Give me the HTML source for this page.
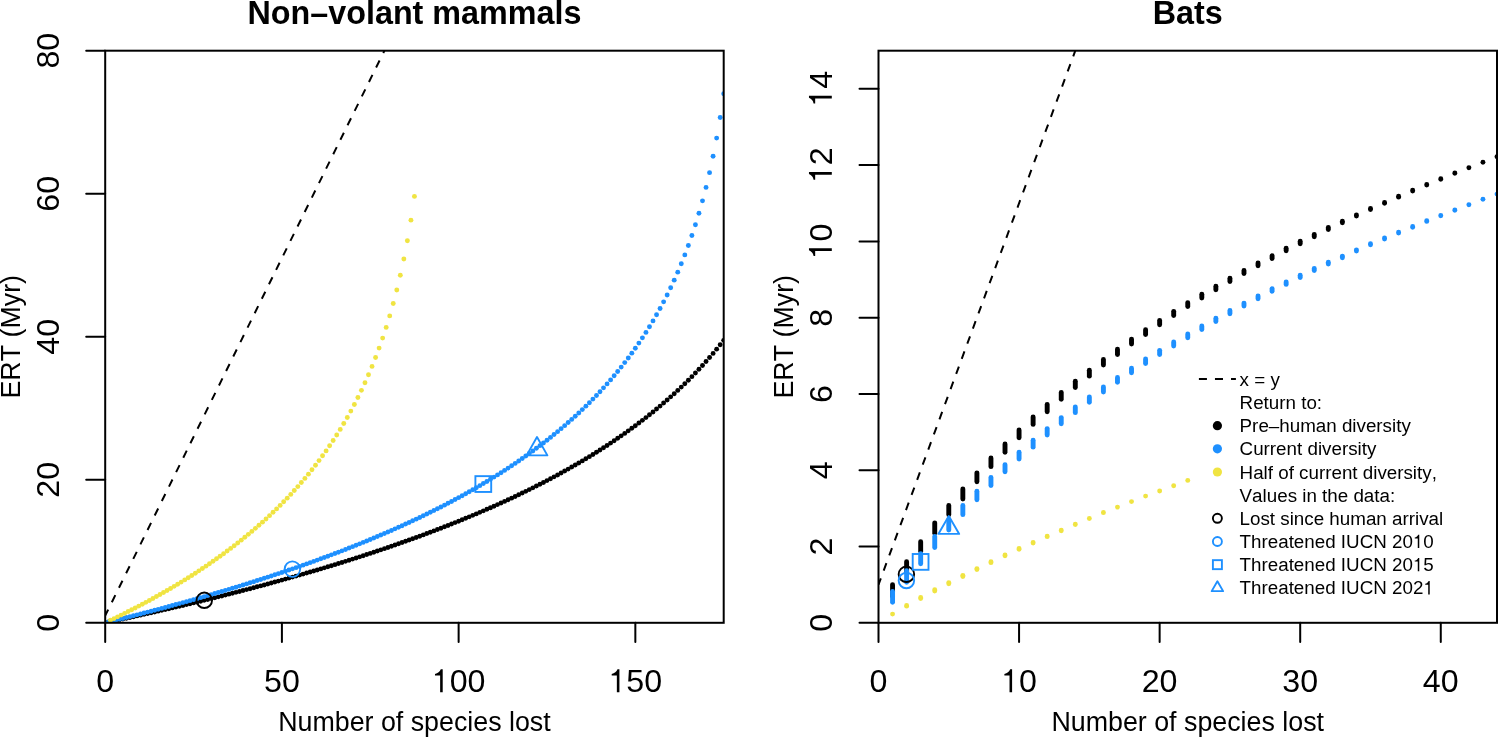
<!DOCTYPE html><html><head><meta charset="utf-8"><title>ERT</title><style>html,body{margin:0;padding:0;background:#fff;}svg{display:block;will-change:transform;}text{font-family:"Liberation Sans",sans-serif;fill:#000;font-kerning:none;font-feature-settings:"kern" 0;}</style></head><body>
<svg width="1498" height="737" viewBox="0 0 1498 737">
<defs>
<clipPath id="cl"><rect x="105.2" y="50.7" width="618.5" height="572.0999999999999"/></clipPath>
<clipPath id="cr"><rect x="878.5" y="50.7" width="618.5" height="572.0999999999999"/></clipPath>
</defs>
<rect width="100%" height="100%" fill="#fff"/>
<g clip-path="url(#cl)">
<g fill="#000"><circle cx="105.20" cy="622.80" r="2.45"/><circle cx="108.73" cy="622.05" r="2.45"/><circle cx="112.27" cy="621.30" r="2.45"/><circle cx="115.80" cy="620.54" r="2.45"/><circle cx="119.34" cy="619.78" r="2.45"/><circle cx="122.87" cy="619.02" r="2.45"/><circle cx="126.41" cy="618.25" r="2.45"/><circle cx="129.94" cy="617.48" r="2.45"/><circle cx="133.47" cy="616.70" r="2.45"/><circle cx="137.01" cy="615.92" r="2.45"/><circle cx="140.54" cy="615.14" r="2.45"/><circle cx="144.08" cy="614.35" r="2.45"/><circle cx="147.61" cy="613.56" r="2.45"/><circle cx="151.15" cy="612.77" r="2.45"/><circle cx="154.68" cy="611.97" r="2.45"/><circle cx="158.21" cy="611.17" r="2.45"/><circle cx="161.75" cy="610.36" r="2.45"/><circle cx="165.28" cy="609.55" r="2.45"/><circle cx="168.82" cy="608.73" r="2.45"/><circle cx="172.35" cy="607.91" r="2.45"/><circle cx="175.89" cy="607.09" r="2.45"/><circle cx="179.42" cy="606.26" r="2.45"/><circle cx="182.95" cy="605.43" r="2.45"/><circle cx="186.49" cy="604.59" r="2.45"/><circle cx="190.02" cy="603.75" r="2.45"/><circle cx="193.56" cy="602.90" r="2.45"/><circle cx="197.09" cy="602.05" r="2.45"/><circle cx="200.63" cy="601.19" r="2.45"/><circle cx="204.16" cy="600.33" r="2.45"/><circle cx="207.69" cy="599.47" r="2.45"/><circle cx="211.23" cy="598.60" r="2.45"/><circle cx="214.76" cy="597.72" r="2.45"/><circle cx="218.30" cy="596.84" r="2.45"/><circle cx="221.83" cy="595.96" r="2.45"/><circle cx="225.37" cy="595.07" r="2.45"/><circle cx="228.90" cy="594.17" r="2.45"/><circle cx="232.43" cy="593.27" r="2.45"/><circle cx="235.97" cy="592.37" r="2.45"/><circle cx="239.50" cy="591.46" r="2.45"/><circle cx="243.04" cy="590.54" r="2.45"/><circle cx="246.57" cy="589.62" r="2.45"/><circle cx="250.11" cy="588.69" r="2.45"/><circle cx="253.64" cy="587.76" r="2.45"/><circle cx="257.17" cy="586.82" r="2.45"/><circle cx="260.71" cy="585.88" r="2.45"/><circle cx="264.24" cy="584.93" r="2.45"/><circle cx="267.78" cy="583.98" r="2.45"/><circle cx="271.31" cy="583.02" r="2.45"/><circle cx="274.85" cy="582.05" r="2.45"/><circle cx="278.38" cy="581.08" r="2.45"/><circle cx="281.91" cy="580.10" r="2.45"/><circle cx="285.45" cy="579.11" r="2.45"/><circle cx="288.98" cy="578.12" r="2.45"/><circle cx="292.52" cy="577.12" r="2.45"/><circle cx="296.05" cy="576.12" r="2.45"/><circle cx="299.59" cy="575.11" r="2.45"/><circle cx="303.12" cy="574.09" r="2.45"/><circle cx="306.65" cy="573.07" r="2.45"/><circle cx="310.19" cy="572.04" r="2.45"/><circle cx="313.72" cy="571.00" r="2.45"/><circle cx="317.26" cy="569.96" r="2.45"/><circle cx="320.79" cy="568.91" r="2.45"/><circle cx="324.33" cy="567.85" r="2.45"/><circle cx="327.86" cy="566.78" r="2.45"/><circle cx="331.39" cy="565.71" r="2.45"/><circle cx="334.93" cy="564.63" r="2.45"/><circle cx="338.46" cy="563.54" r="2.45"/><circle cx="342.00" cy="562.45" r="2.45"/><circle cx="345.53" cy="561.35" r="2.45"/><circle cx="349.07" cy="560.23" r="2.45"/><circle cx="352.60" cy="559.12" r="2.45"/><circle cx="356.13" cy="557.99" r="2.45"/><circle cx="359.67" cy="556.85" r="2.45"/><circle cx="363.20" cy="555.71" r="2.45"/><circle cx="366.74" cy="554.56" r="2.45"/><circle cx="370.27" cy="553.40" r="2.45"/><circle cx="373.81" cy="552.23" r="2.45"/><circle cx="377.34" cy="551.05" r="2.45"/><circle cx="380.87" cy="549.87" r="2.45"/><circle cx="384.41" cy="548.67" r="2.45"/><circle cx="387.94" cy="547.47" r="2.45"/><circle cx="391.48" cy="546.25" r="2.45"/><circle cx="395.01" cy="545.03" r="2.45"/><circle cx="398.55" cy="543.80" r="2.45"/><circle cx="402.08" cy="542.55" r="2.45"/><circle cx="405.61" cy="541.30" r="2.45"/><circle cx="409.15" cy="540.04" r="2.45"/><circle cx="412.68" cy="538.77" r="2.45"/><circle cx="416.22" cy="537.48" r="2.45"/><circle cx="419.75" cy="536.19" r="2.45"/><circle cx="423.29" cy="534.88" r="2.45"/><circle cx="426.82" cy="533.57" r="2.45"/><circle cx="430.35" cy="532.24" r="2.45"/><circle cx="433.89" cy="530.90" r="2.45"/><circle cx="437.42" cy="529.55" r="2.45"/><circle cx="440.96" cy="528.19" r="2.45"/><circle cx="444.49" cy="526.82" r="2.45"/><circle cx="448.03" cy="525.43" r="2.45"/><circle cx="451.56" cy="524.03" r="2.45"/><circle cx="455.09" cy="522.62" r="2.45"/><circle cx="458.63" cy="521.20" r="2.45"/><circle cx="462.16" cy="519.76" r="2.45"/><circle cx="465.70" cy="518.31" r="2.45"/><circle cx="469.23" cy="516.85" r="2.45"/><circle cx="472.77" cy="515.37" r="2.45"/><circle cx="476.30" cy="513.88" r="2.45"/><circle cx="479.83" cy="512.37" r="2.45"/><circle cx="483.37" cy="510.85" r="2.45"/><circle cx="486.90" cy="509.32" r="2.45"/><circle cx="490.44" cy="507.77" r="2.45"/><circle cx="493.97" cy="506.20" r="2.45"/><circle cx="497.51" cy="504.62" r="2.45"/><circle cx="501.04" cy="503.02" r="2.45"/><circle cx="504.57" cy="501.41" r="2.45"/><circle cx="508.11" cy="499.77" r="2.45"/><circle cx="511.64" cy="498.13" r="2.45"/><circle cx="515.18" cy="496.46" r="2.45"/><circle cx="518.71" cy="494.78" r="2.45"/><circle cx="522.25" cy="493.07" r="2.45"/><circle cx="525.78" cy="491.35" r="2.45"/><circle cx="529.31" cy="489.61" r="2.45"/><circle cx="532.85" cy="487.85" r="2.45"/><circle cx="536.38" cy="486.07" r="2.45"/><circle cx="539.92" cy="484.27" r="2.45"/><circle cx="543.45" cy="482.45" r="2.45"/><circle cx="546.99" cy="480.61" r="2.45"/><circle cx="550.52" cy="478.75" r="2.45"/><circle cx="554.05" cy="476.86" r="2.45"/><circle cx="557.59" cy="474.95" r="2.45"/><circle cx="561.12" cy="473.02" r="2.45"/><circle cx="564.66" cy="471.06" r="2.45"/><circle cx="568.19" cy="469.08" r="2.45"/><circle cx="571.73" cy="467.07" r="2.45"/><circle cx="575.26" cy="465.04" r="2.45"/><circle cx="578.79" cy="462.98" r="2.45"/><circle cx="582.33" cy="460.89" r="2.45"/><circle cx="585.86" cy="458.77" r="2.45"/><circle cx="589.40" cy="456.63" r="2.45"/><circle cx="592.93" cy="454.45" r="2.45"/><circle cx="596.47" cy="452.25" r="2.45"/><circle cx="600.00" cy="450.01" r="2.45"/><circle cx="603.53" cy="447.74" r="2.45"/><circle cx="607.07" cy="445.44" r="2.45"/><circle cx="610.60" cy="443.10" r="2.45"/><circle cx="614.14" cy="440.73" r="2.45"/><circle cx="617.67" cy="438.32" r="2.45"/><circle cx="621.21" cy="435.87" r="2.45"/><circle cx="624.74" cy="433.39" r="2.45"/><circle cx="628.27" cy="430.86" r="2.45"/><circle cx="631.81" cy="428.29" r="2.45"/><circle cx="635.34" cy="425.68" r="2.45"/><circle cx="638.88" cy="423.03" r="2.45"/><circle cx="642.41" cy="420.33" r="2.45"/><circle cx="645.95" cy="417.58" r="2.45"/><circle cx="649.48" cy="414.79" r="2.45"/><circle cx="653.01" cy="411.94" r="2.45"/><circle cx="656.55" cy="409.04" r="2.45"/><circle cx="660.08" cy="406.08" r="2.45"/><circle cx="663.62" cy="403.07" r="2.45"/><circle cx="667.15" cy="400.00" r="2.45"/><circle cx="670.69" cy="396.87" r="2.45"/><circle cx="674.22" cy="393.68" r="2.45"/><circle cx="677.75" cy="390.41" r="2.45"/><circle cx="681.29" cy="387.08" r="2.45"/><circle cx="684.82" cy="383.68" r="2.45"/><circle cx="688.36" cy="380.20" r="2.45"/><circle cx="691.89" cy="376.64" r="2.45"/><circle cx="695.43" cy="373.00" r="2.45"/><circle cx="698.96" cy="369.27" r="2.45"/><circle cx="702.49" cy="365.45" r="2.45"/><circle cx="706.03" cy="361.54" r="2.45"/><circle cx="709.56" cy="357.52" r="2.45"/><circle cx="713.10" cy="353.40" r="2.45"/><circle cx="716.63" cy="349.17" r="2.45"/><circle cx="720.17" cy="344.82" r="2.45"/><circle cx="723.70" cy="340.35" r="2.45"/></g>
<g fill="#1E90FF"><circle cx="105.20" cy="622.80" r="2.45"/><circle cx="108.73" cy="621.94" r="2.45"/><circle cx="112.27" cy="621.07" r="2.45"/><circle cx="115.80" cy="620.20" r="2.45"/><circle cx="119.34" cy="619.32" r="2.45"/><circle cx="122.87" cy="618.44" r="2.45"/><circle cx="126.41" cy="617.55" r="2.45"/><circle cx="129.94" cy="616.66" r="2.45"/><circle cx="133.47" cy="615.76" r="2.45"/><circle cx="137.01" cy="614.86" r="2.45"/><circle cx="140.54" cy="613.95" r="2.45"/><circle cx="144.08" cy="613.04" r="2.45"/><circle cx="147.61" cy="612.12" r="2.45"/><circle cx="151.15" cy="611.20" r="2.45"/><circle cx="154.68" cy="610.27" r="2.45"/><circle cx="158.21" cy="609.33" r="2.45"/><circle cx="161.75" cy="608.39" r="2.45"/><circle cx="165.28" cy="607.44" r="2.45"/><circle cx="168.82" cy="606.49" r="2.45"/><circle cx="172.35" cy="605.53" r="2.45"/><circle cx="175.89" cy="604.57" r="2.45"/><circle cx="179.42" cy="603.60" r="2.45"/><circle cx="182.95" cy="602.62" r="2.45"/><circle cx="186.49" cy="601.64" r="2.45"/><circle cx="190.02" cy="600.65" r="2.45"/><circle cx="193.56" cy="599.66" r="2.45"/><circle cx="197.09" cy="598.66" r="2.45"/><circle cx="200.63" cy="597.65" r="2.45"/><circle cx="204.16" cy="596.63" r="2.45"/><circle cx="207.69" cy="595.61" r="2.45"/><circle cx="211.23" cy="594.58" r="2.45"/><circle cx="214.76" cy="593.55" r="2.45"/><circle cx="218.30" cy="592.51" r="2.45"/><circle cx="221.83" cy="591.46" r="2.45"/><circle cx="225.37" cy="590.41" r="2.45"/><circle cx="228.90" cy="589.34" r="2.45"/><circle cx="232.43" cy="588.27" r="2.45"/><circle cx="235.97" cy="587.19" r="2.45"/><circle cx="239.50" cy="586.11" r="2.45"/><circle cx="243.04" cy="585.02" r="2.45"/><circle cx="246.57" cy="583.92" r="2.45"/><circle cx="250.11" cy="582.81" r="2.45"/><circle cx="253.64" cy="581.69" r="2.45"/><circle cx="257.17" cy="580.57" r="2.45"/><circle cx="260.71" cy="579.44" r="2.45"/><circle cx="264.24" cy="578.30" r="2.45"/><circle cx="267.78" cy="577.15" r="2.45"/><circle cx="271.31" cy="575.99" r="2.45"/><circle cx="274.85" cy="574.82" r="2.45"/><circle cx="278.38" cy="573.65" r="2.45"/><circle cx="281.91" cy="572.46" r="2.45"/><circle cx="285.45" cy="571.27" r="2.45"/><circle cx="288.98" cy="570.07" r="2.45"/><circle cx="292.52" cy="568.86" r="2.45"/><circle cx="296.05" cy="567.64" r="2.45"/><circle cx="299.59" cy="566.41" r="2.45"/><circle cx="303.12" cy="565.17" r="2.45"/><circle cx="306.65" cy="563.92" r="2.45"/><circle cx="310.19" cy="562.65" r="2.45"/><circle cx="313.72" cy="561.38" r="2.45"/><circle cx="317.26" cy="560.10" r="2.45"/><circle cx="320.79" cy="558.81" r="2.45"/><circle cx="324.33" cy="557.51" r="2.45"/><circle cx="327.86" cy="556.19" r="2.45"/><circle cx="331.39" cy="554.87" r="2.45"/><circle cx="334.93" cy="553.53" r="2.45"/><circle cx="338.46" cy="552.18" r="2.45"/><circle cx="342.00" cy="550.83" r="2.45"/><circle cx="345.53" cy="549.45" r="2.45"/><circle cx="349.07" cy="548.07" r="2.45"/><circle cx="352.60" cy="546.67" r="2.45"/><circle cx="356.13" cy="545.27" r="2.45"/><circle cx="359.67" cy="543.84" r="2.45"/><circle cx="363.20" cy="542.41" r="2.45"/><circle cx="366.74" cy="540.96" r="2.45"/><circle cx="370.27" cy="539.50" r="2.45"/><circle cx="373.81" cy="538.02" r="2.45"/><circle cx="377.34" cy="536.53" r="2.45"/><circle cx="380.87" cy="535.03" r="2.45"/><circle cx="384.41" cy="533.51" r="2.45"/><circle cx="387.94" cy="531.98" r="2.45"/><circle cx="391.48" cy="530.43" r="2.45"/><circle cx="395.01" cy="528.86" r="2.45"/><circle cx="398.55" cy="527.28" r="2.45"/><circle cx="402.08" cy="525.69" r="2.45"/><circle cx="405.61" cy="524.07" r="2.45"/><circle cx="409.15" cy="522.44" r="2.45"/><circle cx="412.68" cy="520.80" r="2.45"/><circle cx="416.22" cy="519.13" r="2.45"/><circle cx="419.75" cy="517.45" r="2.45"/><circle cx="423.29" cy="515.75" r="2.45"/><circle cx="426.82" cy="514.03" r="2.45"/><circle cx="430.35" cy="512.29" r="2.45"/><circle cx="433.89" cy="510.53" r="2.45"/><circle cx="437.42" cy="508.75" r="2.45"/><circle cx="440.96" cy="506.95" r="2.45"/><circle cx="444.49" cy="505.13" r="2.45"/><circle cx="448.03" cy="503.29" r="2.45"/><circle cx="451.56" cy="501.43" r="2.45"/><circle cx="455.09" cy="499.54" r="2.45"/><circle cx="458.63" cy="497.63" r="2.45"/><circle cx="462.16" cy="495.70" r="2.45"/><circle cx="465.70" cy="493.74" r="2.45"/><circle cx="469.23" cy="491.76" r="2.45"/><circle cx="472.77" cy="489.75" r="2.45"/><circle cx="476.30" cy="487.71" r="2.45"/><circle cx="479.83" cy="485.65" r="2.45"/><circle cx="483.37" cy="483.56" r="2.45"/><circle cx="486.90" cy="481.45" r="2.45"/><circle cx="490.44" cy="479.30" r="2.45"/><circle cx="493.97" cy="477.12" r="2.45"/><circle cx="497.51" cy="474.92" r="2.45"/><circle cx="501.04" cy="472.68" r="2.45"/><circle cx="504.57" cy="470.40" r="2.45"/><circle cx="508.11" cy="468.10" r="2.45"/><circle cx="511.64" cy="465.76" r="2.45"/><circle cx="515.18" cy="463.38" r="2.45"/><circle cx="518.71" cy="460.97" r="2.45"/><circle cx="522.25" cy="458.52" r="2.45"/><circle cx="525.78" cy="456.03" r="2.45"/><circle cx="529.31" cy="453.50" r="2.45"/><circle cx="532.85" cy="450.93" r="2.45"/><circle cx="536.38" cy="448.31" r="2.45"/><circle cx="539.92" cy="445.65" r="2.45"/><circle cx="543.45" cy="442.95" r="2.45"/><circle cx="546.99" cy="440.19" r="2.45"/><circle cx="550.52" cy="437.39" r="2.45"/><circle cx="554.05" cy="434.53" r="2.45"/><circle cx="557.59" cy="431.63" r="2.45"/><circle cx="561.12" cy="428.66" r="2.45"/><circle cx="564.66" cy="425.64" r="2.45"/><circle cx="568.19" cy="422.56" r="2.45"/><circle cx="571.73" cy="419.42" r="2.45"/><circle cx="575.26" cy="416.21" r="2.45"/><circle cx="578.79" cy="412.94" r="2.45"/><circle cx="582.33" cy="409.59" r="2.45"/><circle cx="585.86" cy="406.17" r="2.45"/><circle cx="589.40" cy="402.68" r="2.45"/><circle cx="592.93" cy="399.10" r="2.45"/><circle cx="596.47" cy="395.44" r="2.45"/><circle cx="600.00" cy="391.69" r="2.45"/><circle cx="603.53" cy="387.85" r="2.45"/><circle cx="607.07" cy="383.92" r="2.45"/><circle cx="610.60" cy="379.88" r="2.45"/><circle cx="614.14" cy="375.73" r="2.45"/><circle cx="617.67" cy="371.47" r="2.45"/><circle cx="621.21" cy="367.09" r="2.45"/><circle cx="624.74" cy="362.58" r="2.45"/><circle cx="628.27" cy="357.94" r="2.45"/><circle cx="631.81" cy="353.16" r="2.45"/><circle cx="635.34" cy="348.22" r="2.45"/><circle cx="638.88" cy="343.12" r="2.45"/><circle cx="642.41" cy="337.85" r="2.45"/><circle cx="645.95" cy="332.40" r="2.45"/><circle cx="649.48" cy="326.75" r="2.45"/><circle cx="653.01" cy="320.88" r="2.45"/><circle cx="656.55" cy="314.79" r="2.45"/><circle cx="660.08" cy="308.44" r="2.45"/><circle cx="663.62" cy="301.83" r="2.45"/><circle cx="667.15" cy="294.93" r="2.45"/><circle cx="670.69" cy="287.70" r="2.45"/><circle cx="674.22" cy="280.13" r="2.45"/><circle cx="677.75" cy="272.16" r="2.45"/><circle cx="681.29" cy="263.77" r="2.45"/><circle cx="684.82" cy="254.89" r="2.45"/><circle cx="688.36" cy="245.49" r="2.45"/><circle cx="691.89" cy="235.47" r="2.45"/><circle cx="695.43" cy="224.77" r="2.45"/><circle cx="698.96" cy="213.28" r="2.45"/><circle cx="702.49" cy="200.87" r="2.45"/><circle cx="706.03" cy="187.39" r="2.45"/><circle cx="709.56" cy="172.63" r="2.45"/><circle cx="713.10" cy="156.32" r="2.45"/><circle cx="716.63" cy="138.11" r="2.45"/><circle cx="720.17" cy="117.47" r="2.45"/><circle cx="723.70" cy="93.68" r="2.45"/><circle cx="727.23" cy="65.60" r="2.45"/></g>
<g fill="#F0E442"><circle cx="110.50" cy="620.28" r="2.45"/><circle cx="114.04" cy="618.58" r="2.45"/><circle cx="117.57" cy="616.85" r="2.45"/><circle cx="121.10" cy="615.11" r="2.45"/><circle cx="124.64" cy="613.35" r="2.45"/><circle cx="128.17" cy="611.57" r="2.45"/><circle cx="131.71" cy="609.77" r="2.45"/><circle cx="135.24" cy="607.95" r="2.45"/><circle cx="138.78" cy="606.10" r="2.45"/><circle cx="142.31" cy="604.24" r="2.45"/><circle cx="145.84" cy="602.35" r="2.45"/><circle cx="149.38" cy="600.44" r="2.45"/><circle cx="152.91" cy="598.50" r="2.45"/><circle cx="156.45" cy="596.54" r="2.45"/><circle cx="159.98" cy="594.56" r="2.45"/><circle cx="163.52" cy="592.55" r="2.45"/><circle cx="167.05" cy="590.51" r="2.45"/><circle cx="170.58" cy="588.45" r="2.45"/><circle cx="174.12" cy="586.35" r="2.45"/><circle cx="177.65" cy="584.23" r="2.45"/><circle cx="181.19" cy="582.09" r="2.45"/><circle cx="184.72" cy="579.91" r="2.45"/><circle cx="188.26" cy="577.70" r="2.45"/><circle cx="191.79" cy="575.46" r="2.45"/><circle cx="195.32" cy="573.18" r="2.45"/><circle cx="198.86" cy="570.87" r="2.45"/><circle cx="202.39" cy="568.53" r="2.45"/><circle cx="205.93" cy="566.15" r="2.45"/><circle cx="209.46" cy="563.74" r="2.45"/><circle cx="213.00" cy="561.28" r="2.45"/><circle cx="216.53" cy="558.79" r="2.45"/><circle cx="220.06" cy="556.26" r="2.45"/><circle cx="223.60" cy="553.68" r="2.45"/><circle cx="227.13" cy="551.07" r="2.45"/><circle cx="230.67" cy="548.40" r="2.45"/><circle cx="234.20" cy="545.69" r="2.45"/><circle cx="237.74" cy="542.94" r="2.45"/><circle cx="241.27" cy="540.13" r="2.45"/><circle cx="244.80" cy="537.27" r="2.45"/><circle cx="248.34" cy="534.36" r="2.45"/><circle cx="251.87" cy="531.40" r="2.45"/><circle cx="255.41" cy="528.37" r="2.45"/><circle cx="258.94" cy="525.29" r="2.45"/><circle cx="262.48" cy="522.14" r="2.45"/><circle cx="266.01" cy="518.93" r="2.45"/><circle cx="269.54" cy="515.65" r="2.45"/><circle cx="273.08" cy="512.31" r="2.45"/><circle cx="276.61" cy="508.88" r="2.45"/><circle cx="280.15" cy="505.39" r="2.45"/><circle cx="283.68" cy="501.81" r="2.45"/><circle cx="287.22" cy="498.14" r="2.45"/><circle cx="290.75" cy="494.39" r="2.45"/><circle cx="294.28" cy="490.55" r="2.45"/><circle cx="297.82" cy="486.61" r="2.45"/><circle cx="301.35" cy="482.56" r="2.45"/><circle cx="304.89" cy="478.41" r="2.45"/><circle cx="308.42" cy="474.15" r="2.45"/><circle cx="311.96" cy="469.77" r="2.45"/><circle cx="315.49" cy="465.26" r="2.45"/><circle cx="319.02" cy="460.61" r="2.45"/><circle cx="322.56" cy="455.82" r="2.45"/><circle cx="326.09" cy="450.88" r="2.45"/><circle cx="329.63" cy="445.78" r="2.45"/><circle cx="333.16" cy="440.51" r="2.45"/><circle cx="336.70" cy="435.05" r="2.45"/><circle cx="340.23" cy="429.40" r="2.45"/><circle cx="343.76" cy="423.53" r="2.45"/><circle cx="347.30" cy="417.43" r="2.45"/><circle cx="350.83" cy="411.08" r="2.45"/><circle cx="354.37" cy="404.47" r="2.45"/><circle cx="357.90" cy="397.56" r="2.45"/><circle cx="361.44" cy="390.33" r="2.45"/><circle cx="364.97" cy="382.75" r="2.45"/><circle cx="368.50" cy="374.78" r="2.45"/><circle cx="372.04" cy="366.39" r="2.45"/><circle cx="375.57" cy="357.51" r="2.45"/><circle cx="379.11" cy="348.10" r="2.45"/><circle cx="382.64" cy="338.09" r="2.45"/><circle cx="386.18" cy="327.39" r="2.45"/><circle cx="389.71" cy="315.90" r="2.45"/><circle cx="393.24" cy="303.49" r="2.45"/><circle cx="396.78" cy="290.01" r="2.45"/><circle cx="400.31" cy="275.26" r="2.45"/><circle cx="403.85" cy="258.97" r="2.45"/><circle cx="407.38" cy="240.77" r="2.45"/><circle cx="410.92" cy="220.16" r="2.45"/><circle cx="414.45" cy="196.41" r="2.45"/></g>
<line x1="105.20" y1="615.65" x2="384.41" y2="50.70" stroke="#000" stroke-width="2" stroke-dasharray="7.85 8.27" stroke-dashoffset="1.13"/>
</g>
<circle cx="204.30" cy="600.30" r="7.75" fill="none" stroke="#000" stroke-width="1.9"/>
<circle cx="292.40" cy="569.10" r="7.75" fill="none" stroke="#1E90FF" stroke-width="1.9"/>
<rect x="475.40" y="476.15" width="15.80" height="15.80" fill="none" stroke="#1E90FF" stroke-width="1.9"/>
<path d="M537.00 437.00L547.40 455.40L526.60 455.40Z" fill="none" stroke="#1E90FF" stroke-width="1.9" stroke-linejoin="round"/>
<rect x="105.2" y="50.7" width="618.50" height="572.10" fill="none" stroke="#000" stroke-width="2"/>
<path d="M105.20 622.8V641.9M281.91 622.8V641.9M458.63 622.8V641.9M635.34 622.8V641.9M105.2 622.80H86.2M105.2 479.77H86.2M105.2 336.75H86.2M105.2 193.73H86.2M105.2 50.70H86.2" stroke="#000" stroke-width="2" stroke-linecap="round" fill="none"/>
<text x="105.20" y="692.20" font-size="32.2" text-anchor="middle">0</text>
<text x="281.91" y="692.20" font-size="32.2" text-anchor="middle">50</text>
<text x="458.63" y="692.20" font-size="32.2" text-anchor="middle"> 00</text><path d="M442.71 692.20L442.71 669.37L440.78 669.37C439.82 671.75 437.88 673.69 434.99 673.97L434.99 675.58L440.14 675.58L440.14 692.20Z" fill="#000"/>
<text x="635.34" y="692.20" font-size="32.2" text-anchor="middle"> 50</text><path d="M619.42 692.20L619.42 669.37L617.50 669.37C616.53 671.75 614.60 673.69 611.70 673.97L611.70 675.58L616.85 675.58L616.85 692.20Z" fill="#000"/>
<g transform="translate(58.5 622.80) rotate(-90)"><text x="0.00" y="0.00" font-size="32.2" text-anchor="middle">0</text></g>
<g transform="translate(58.5 479.77) rotate(-90)"><text x="0.00" y="0.00" font-size="32.2" text-anchor="middle">20</text></g>
<g transform="translate(58.5 336.75) rotate(-90)"><text x="0.00" y="0.00" font-size="32.2" text-anchor="middle">40</text></g>
<g transform="translate(58.5 193.73) rotate(-90)"><text x="0.00" y="0.00" font-size="32.2" text-anchor="middle">60</text></g>
<g transform="translate(58.5 50.70) rotate(-90)"><text x="0.00" y="0.00" font-size="32.2" text-anchor="middle">80</text></g>
<text x="414.45" y="730.5" font-size="26.8" text-anchor="middle">Number of species lost</text>
<text transform="translate(19.8 336.75) rotate(-90)" font-size="26.8" text-anchor="middle">ERT (Myr)</text>
<text x="414.45" y="23.5" font-size="32.3" font-weight="bold" text-anchor="middle">Non–volant mammals</text>
<g clip-path="url(#cr)">
<path d="M892.56 584.75V596.15" stroke="#000" stroke-width="4.9" stroke-linecap="round"/><path d="M906.61 561.75V572.15" stroke="#000" stroke-width="4.9" stroke-linecap="round"/><path d="M920.67 541.75V551.15" stroke="#000" stroke-width="4.9" stroke-linecap="round"/><path d="M934.73 522.85V533.15" stroke="#000" stroke-width="4.9" stroke-linecap="round"/><path d="M948.78 505.55V514.65" stroke="#000" stroke-width="4.9" stroke-linecap="round"/><path d="M962.84 488.95V498.95" stroke="#000" stroke-width="4.9" stroke-linecap="round"/><path d="M976.90 472.85V481.85" stroke="#000" stroke-width="4.9" stroke-linecap="round"/><path d="M990.95 458.05V466.65" stroke="#000" stroke-width="4.9" stroke-linecap="round"/><path d="M1005.01 443.95V452.35" stroke="#000" stroke-width="4.9" stroke-linecap="round"/><path d="M1019.07 430.05V437.75" stroke="#000" stroke-width="4.9" stroke-linecap="round"/><path d="M1033.12 416.89V424.39" stroke="#000" stroke-width="4.9" stroke-linecap="round"/><path d="M1047.18 404.48V411.68" stroke="#000" stroke-width="4.9" stroke-linecap="round"/><path d="M1061.24 392.47V399.27" stroke="#000" stroke-width="4.9" stroke-linecap="round"/><path d="M1075.30 381.14V387.54" stroke="#000" stroke-width="4.9" stroke-linecap="round"/><path d="M1089.35 370.15V376.15" stroke="#000" stroke-width="4.9" stroke-linecap="round"/><path d="M1103.41 359.49V365.09" stroke="#000" stroke-width="4.9" stroke-linecap="round"/><path d="M1117.47 349.13V354.43" stroke="#000" stroke-width="4.9" stroke-linecap="round"/><path d="M1131.52 339.10V344.10" stroke="#000" stroke-width="4.9" stroke-linecap="round"/><path d="M1145.58 329.75V334.45" stroke="#000" stroke-width="4.9" stroke-linecap="round"/><path d="M1159.64 320.40V324.80" stroke="#000" stroke-width="4.9" stroke-linecap="round"/><path d="M1173.69 311.34V315.54" stroke="#000" stroke-width="4.9" stroke-linecap="round"/><path d="M1187.75 302.67V306.57" stroke="#000" stroke-width="4.9" stroke-linecap="round"/><path d="M1201.81 294.29V297.99" stroke="#000" stroke-width="4.9" stroke-linecap="round"/><path d="M1215.86 286.25V289.75" stroke="#000" stroke-width="4.9" stroke-linecap="round"/><path d="M1229.92 278.21V281.51" stroke="#000" stroke-width="4.9" stroke-linecap="round"/><path d="M1243.98 270.51V273.61" stroke="#000" stroke-width="4.9" stroke-linecap="round"/><path d="M1258.03 262.92V265.82" stroke="#000" stroke-width="4.9" stroke-linecap="round"/><path d="M1272.09 255.63V258.43" stroke="#000" stroke-width="4.9" stroke-linecap="round"/><path d="M1286.15 248.26V250.86" stroke="#000" stroke-width="4.9" stroke-linecap="round"/><path d="M1300.20 241.19V243.69" stroke="#000" stroke-width="4.9" stroke-linecap="round"/><path d="M1314.26 234.51V236.73" stroke="#000" stroke-width="4.9" stroke-linecap="round"/><path d="M1328.32 227.48V229.44" stroke="#000" stroke-width="4.9" stroke-linecap="round"/><path d="M1342.38 221.14V222.82" stroke="#000" stroke-width="4.9" stroke-linecap="round"/><path d="M1356.43 214.89V216.11" stroke="#000" stroke-width="4.9" stroke-linecap="round"/><path d="M1370.49 208.47V209.57" stroke="#000" stroke-width="4.9" stroke-linecap="round"/><path d="M1384.55 202.39V203.36" stroke="#000" stroke-width="4.9" stroke-linecap="round"/><path d="M1398.60 196.31V197.16" stroke="#000" stroke-width="4.9" stroke-linecap="round"/><path d="M1412.66 190.23V190.96" stroke="#000" stroke-width="4.9" stroke-linecap="round"/><path d="M1426.72 184.49V185.10" stroke="#000" stroke-width="4.9" stroke-linecap="round"/><path d="M1440.77 178.75V179.23" stroke="#000" stroke-width="4.9" stroke-linecap="round"/><path d="M1454.83 173.01V173.37" stroke="#000" stroke-width="4.9" stroke-linecap="round"/><path d="M1468.89 167.60V167.85" stroke="#000" stroke-width="4.9" stroke-linecap="round"/><path d="M1482.94 162.20V162.32" stroke="#000" stroke-width="4.9" stroke-linecap="round"/><circle cx="1497.00" cy="156.80" r="2.45" fill="#000"/>
<path d="M892.56 591.45V602.35" stroke="#1E90FF" stroke-width="4.9" stroke-linecap="round"/><path d="M906.61 570.75V582.25" stroke="#1E90FF" stroke-width="4.9" stroke-linecap="round"/><path d="M920.67 553.65V563.85" stroke="#1E90FF" stroke-width="4.9" stroke-linecap="round"/><path d="M934.73 536.55V547.45" stroke="#1E90FF" stroke-width="4.9" stroke-linecap="round"/><path d="M948.78 519.75V529.95" stroke="#1E90FF" stroke-width="4.9" stroke-linecap="round"/><path d="M962.84 505.55V514.65" stroke="#1E90FF" stroke-width="4.9" stroke-linecap="round"/><path d="M976.90 491.25V499.75" stroke="#1E90FF" stroke-width="4.9" stroke-linecap="round"/><path d="M990.95 477.55V485.55" stroke="#1E90FF" stroke-width="4.9" stroke-linecap="round"/><path d="M1005.01 464.65V471.85" stroke="#1E90FF" stroke-width="4.9" stroke-linecap="round"/><path d="M1019.07 452.25V458.95" stroke="#1E90FF" stroke-width="4.9" stroke-linecap="round"/><path d="M1033.12 440.25V447.15" stroke="#1E90FF" stroke-width="4.9" stroke-linecap="round"/><path d="M1047.18 428.58V435.08" stroke="#1E90FF" stroke-width="4.9" stroke-linecap="round"/><path d="M1061.24 417.59V423.69" stroke="#1E90FF" stroke-width="4.9" stroke-linecap="round"/><path d="M1075.30 406.93V412.63" stroke="#1E90FF" stroke-width="4.9" stroke-linecap="round"/><path d="M1089.35 396.95V402.25" stroke="#1E90FF" stroke-width="4.9" stroke-linecap="round"/><path d="M1103.41 386.93V391.93" stroke="#1E90FF" stroke-width="4.9" stroke-linecap="round"/><path d="M1117.47 377.53V382.33" stroke="#1E90FF" stroke-width="4.9" stroke-linecap="round"/><path d="M1131.52 368.13V372.73" stroke="#1E90FF" stroke-width="4.9" stroke-linecap="round"/><path d="M1145.58 359.07V363.47" stroke="#1E90FF" stroke-width="4.9" stroke-linecap="round"/><path d="M1159.64 350.35V354.55" stroke="#1E90FF" stroke-width="4.9" stroke-linecap="round"/><path d="M1173.69 341.97V345.97" stroke="#1E90FF" stroke-width="4.9" stroke-linecap="round"/><path d="M1187.75 333.93V337.73" stroke="#1E90FF" stroke-width="4.9" stroke-linecap="round"/><path d="M1201.81 325.89V329.49" stroke="#1E90FF" stroke-width="4.9" stroke-linecap="round"/><path d="M1215.86 318.19V321.59" stroke="#1E90FF" stroke-width="4.9" stroke-linecap="round"/><path d="M1229.92 310.49V313.69" stroke="#1E90FF" stroke-width="4.9" stroke-linecap="round"/><path d="M1243.98 303.12V306.12" stroke="#1E90FF" stroke-width="4.9" stroke-linecap="round"/><path d="M1258.03 296.05V298.85" stroke="#1E90FF" stroke-width="4.9" stroke-linecap="round"/><path d="M1272.09 288.58V291.28" stroke="#1E90FF" stroke-width="4.9" stroke-linecap="round"/><path d="M1286.15 281.90V284.40" stroke="#1E90FF" stroke-width="4.9" stroke-linecap="round"/><path d="M1300.20 275.16V277.56" stroke="#1E90FF" stroke-width="4.9" stroke-linecap="round"/><path d="M1314.26 268.48V270.61" stroke="#1E90FF" stroke-width="4.9" stroke-linecap="round"/><path d="M1328.32 262.13V263.99" stroke="#1E90FF" stroke-width="4.9" stroke-linecap="round"/><path d="M1342.38 256.13V257.71" stroke="#1E90FF" stroke-width="4.9" stroke-linecap="round"/><path d="M1356.43 249.83V251.05" stroke="#1E90FF" stroke-width="4.9" stroke-linecap="round"/><path d="M1370.49 243.75V244.84" stroke="#1E90FF" stroke-width="4.9" stroke-linecap="round"/><path d="M1384.55 238.01V238.98" stroke="#1E90FF" stroke-width="4.9" stroke-linecap="round"/><path d="M1398.60 232.27V233.12" stroke="#1E90FF" stroke-width="4.9" stroke-linecap="round"/><path d="M1412.66 226.53V227.25" stroke="#1E90FF" stroke-width="4.9" stroke-linecap="round"/><path d="M1426.72 220.78V221.39" stroke="#1E90FF" stroke-width="4.9" stroke-linecap="round"/><path d="M1440.77 215.38V215.87" stroke="#1E90FF" stroke-width="4.9" stroke-linecap="round"/><path d="M1454.83 209.98V210.34" stroke="#1E90FF" stroke-width="4.9" stroke-linecap="round"/><path d="M1468.89 204.58V204.82" stroke="#1E90FF" stroke-width="4.9" stroke-linecap="round"/><path d="M1482.94 199.17V199.30" stroke="#1E90FF" stroke-width="4.9" stroke-linecap="round"/><circle cx="1497.00" cy="194.11" r="2.45" fill="#1E90FF"/>
<circle cx="892.56" cy="614.10" r="2.45" fill="#F0E442"/><path d="M906.61 605.45V606.15" stroke="#F0E442" stroke-width="4.9" stroke-linecap="round"/><path d="M920.67 597.55V598.45" stroke="#F0E442" stroke-width="4.9" stroke-linecap="round"/><path d="M934.73 589.80V591.00" stroke="#F0E442" stroke-width="4.9" stroke-linecap="round"/><path d="M948.78 582.60V583.80" stroke="#F0E442" stroke-width="4.9" stroke-linecap="round"/><path d="M962.84 575.35V576.45" stroke="#F0E442" stroke-width="4.9" stroke-linecap="round"/><path d="M976.90 568.60V569.60" stroke="#F0E442" stroke-width="4.9" stroke-linecap="round"/><path d="M990.95 561.75V562.65" stroke="#F0E442" stroke-width="4.9" stroke-linecap="round"/><path d="M1005.01 555.00V555.80" stroke="#F0E442" stroke-width="4.9" stroke-linecap="round"/><path d="M1019.07 548.55V549.25" stroke="#F0E442" stroke-width="4.9" stroke-linecap="round"/><path d="M1033.12 542.40V543.00" stroke="#F0E442" stroke-width="4.9" stroke-linecap="round"/><path d="M1047.18 536.15V536.65" stroke="#F0E442" stroke-width="4.9" stroke-linecap="round"/><path d="M1061.24 530.30V530.70" stroke="#F0E442" stroke-width="4.9" stroke-linecap="round"/><path d="M1075.30 524.15V524.45" stroke="#F0E442" stroke-width="4.9" stroke-linecap="round"/><path d="M1089.35 518.40V518.60" stroke="#F0E442" stroke-width="4.9" stroke-linecap="round"/><path d="M1103.41 512.55V512.65" stroke="#F0E442" stroke-width="4.9" stroke-linecap="round"/><circle cx="1117.47" cy="507.10" r="2.45" fill="#F0E442"/><circle cx="1131.52" cy="501.60" r="2.45" fill="#F0E442"/><circle cx="1145.58" cy="496.10" r="2.45" fill="#F0E442"/><circle cx="1159.64" cy="491.00" r="2.45" fill="#F0E442"/><circle cx="1173.69" cy="485.70" r="2.45" fill="#F0E442"/><circle cx="1187.75" cy="480.40" r="2.45" fill="#F0E442"/>
<line x1="878.50" y1="584.66" x2="1075.30" y2="50.70" stroke="#000" stroke-width="2" stroke-dasharray="7.85 8.27" stroke-dashoffset="1.1"/>
</g>
<circle cx="906.40" cy="574.30" r="7.75" fill="none" stroke="#000" stroke-width="1.9"/>
<circle cx="906.40" cy="580.50" r="7.75" fill="none" stroke="#1E90FF" stroke-width="1.9"/>
<rect x="912.70" y="554.00" width="15.80" height="15.80" fill="none" stroke="#1E90FF" stroke-width="1.9"/>
<path d="M948.80 516.10L959.20 533.90L938.40 533.90Z" fill="none" stroke="#1E90FF" stroke-width="1.9" stroke-linejoin="round"/>
<rect x="878.5" y="50.7" width="618.50" height="572.10" fill="none" stroke="#000" stroke-width="2"/>
<path d="M878.50 622.8V641.9M1019.07 622.8V641.9M1159.64 622.8V641.9M1300.20 622.8V641.9M1440.77 622.8V641.9M878.5 622.80H859.50M878.5 546.52H859.50M878.5 470.24H859.50M878.5 393.96H859.50M878.5 317.68H859.50M878.5 241.40H859.50M878.5 165.12H859.50M878.5 88.84H859.50" stroke="#000" stroke-width="2" stroke-linecap="round" fill="none"/>
<text x="878.50" y="692.20" font-size="32.2" text-anchor="middle">0</text>
<text x="1019.07" y="692.20" font-size="32.2" text-anchor="middle"> 0</text><path d="M1012.10 692.20L1012.10 669.37L1010.18 669.37C1009.21 671.75 1007.28 673.69 1004.38 673.97L1004.38 675.58L1009.53 675.58L1009.53 692.20Z" fill="#000"/>
<text x="1159.64" y="692.20" font-size="32.2" text-anchor="middle">20</text>
<text x="1300.20" y="692.20" font-size="32.2" text-anchor="middle">30</text>
<text x="1440.77" y="692.20" font-size="32.2" text-anchor="middle">40</text>
<g transform="translate(831.80 622.80) rotate(-90)"><text x="0.00" y="0.00" font-size="32.2" text-anchor="middle">0</text></g>
<g transform="translate(831.80 546.52) rotate(-90)"><text x="0.00" y="0.00" font-size="32.2" text-anchor="middle">2</text></g>
<g transform="translate(831.80 470.24) rotate(-90)"><text x="0.00" y="0.00" font-size="32.2" text-anchor="middle">4</text></g>
<g transform="translate(831.80 393.96) rotate(-90)"><text x="0.00" y="0.00" font-size="32.2" text-anchor="middle">6</text></g>
<g transform="translate(831.80 317.68) rotate(-90)"><text x="0.00" y="0.00" font-size="32.2" text-anchor="middle">8</text></g>
<g transform="translate(831.80 241.40) rotate(-90)"><text x="0.00" y="0.00" font-size="32.2" text-anchor="middle"> 0</text><path d="M-6.97 0.00L-6.97 -22.83L-8.89 -22.83C-9.86 -20.45 -11.79 -18.52 -14.69 -18.23L-14.69 -16.62L-9.54 -16.62L-9.54 0.00Z" fill="#000"/></g>
<g transform="translate(831.80 165.12) rotate(-90)"><text x="0.00" y="0.00" font-size="32.2" text-anchor="middle"> 2</text><path d="M-6.97 0.00L-6.97 -22.83L-8.89 -22.83C-9.86 -20.45 -11.79 -18.52 -14.69 -18.23L-14.69 -16.62L-9.54 -16.62L-9.54 0.00Z" fill="#000"/></g>
<g transform="translate(831.80 88.84) rotate(-90)"><text x="0.00" y="0.00" font-size="32.2" text-anchor="middle"> 4</text><path d="M-6.97 0.00L-6.97 -22.83L-8.89 -22.83C-9.86 -20.45 -11.79 -18.52 -14.69 -18.23L-14.69 -16.62L-9.54 -16.62L-9.54 0.00Z" fill="#000"/></g>
<text x="1187.75" y="730.5" font-size="26.8" text-anchor="middle">Number of species lost</text>
<text transform="translate(792.90 336.75) rotate(-90)" font-size="26.8" text-anchor="middle">ERT (Myr)</text>
<text x="1187.75" y="23.5" font-size="32.3" font-weight="bold" text-anchor="middle">Bats</text>
<text x="1239.6" y="385.90" font-size="18.8">x = y</text>
<text x="1239.6" y="409.07" font-size="18.8">Return to:</text>
<text x="1239.6" y="432.24" font-size="18.8">Pre–human diversity</text>
<text x="1239.6" y="455.41" font-size="18.8">Current diversity</text>
<text x="1239.6" y="478.58" font-size="18.8">Half of current diversity,</text>
<text x="1239.6" y="501.75" font-size="18.8">Values in the data:</text>
<text x="1239.6" y="524.92" font-size="18.8">Lost since human arrival</text>
<text x="1239.6" y="548.09" font-size="18.8">Threatened IUCN 20 0</text>
<text x="1239.6" y="571.26" font-size="18.8">Threatened IUCN 20 5</text>
<text x="1239.6" y="594.43" font-size="18.8">Threatened IUCN 202 </text>
<path d="M1419.27 548.09L1419.27 534.76L1418.14 534.76C1417.58 536.15 1416.45 537.28 1414.76 537.45L1414.76 538.39L1417.77 538.39L1417.77 548.09Z" fill="#000"/>
<path d="M1419.27 571.26L1419.27 557.93L1418.14 557.93C1417.58 559.32 1416.45 560.45 1414.76 560.62L1414.76 561.56L1417.77 561.56L1417.77 571.26Z" fill="#000"/>
<path d="M1429.72 594.43L1429.72 581.10L1428.59 581.10C1428.03 582.49 1426.90 583.62 1425.21 583.79L1425.21 584.73L1428.22 584.73L1428.22 594.43Z" fill="#000"/>
<line x1="1198.9" y1="378.9" x2="1235.9" y2="378.9" stroke="#000" stroke-width="2" stroke-dasharray="8.03 8.03"/>
<circle cx="1217.4" cy="425.64" r="4.6" fill="#000"/>
<circle cx="1217.4" cy="448.81" r="4.6" fill="#1E90FF"/>
<circle cx="1217.4" cy="471.98" r="4.6" fill="#F0E442"/>
<circle cx="1217.40" cy="518.32" r="4.5" fill="none" stroke="#000" stroke-width="1.9"/>
<circle cx="1217.40" cy="541.49" r="4.5" fill="none" stroke="#1E90FF" stroke-width="1.9"/>
<rect x="1212.90" y="560.16" width="9.00" height="9.00" fill="none" stroke="#1E90FF" stroke-width="1.9"/>
<path d="M1217.40 581.22L1223.12 591.13L1211.68 591.13Z" fill="none" stroke="#1E90FF" stroke-width="1.9" stroke-linejoin="round"/>
</svg></body></html>
